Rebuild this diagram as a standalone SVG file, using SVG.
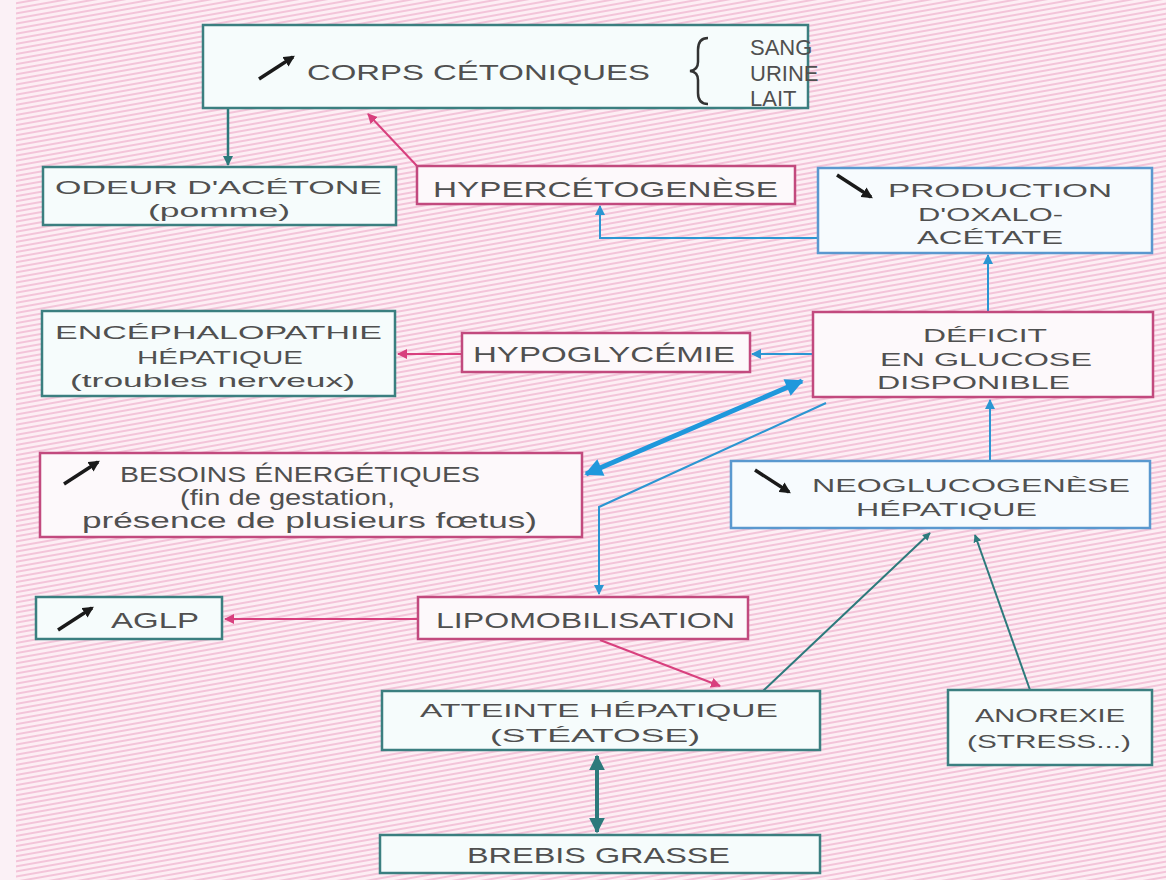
<svg xmlns="http://www.w3.org/2000/svg" width="1166" height="880" viewBox="0 0 1166 880">
<defs>
<pattern id="bg" width="8" height="5" patternUnits="userSpaceOnUse" patternTransform="rotate(-10)">
<rect width="8" height="5" fill="#fdeef4"/>
<rect width="8" height="2" fill="#f3c4d9"/>
</pattern>
<marker id="ahTeal" viewBox="0 0 10 10" refX="9" refY="5" markerWidth="4" markerHeight="4" orient="auto-start-reverse"><path d="M0,0 L10,5 L0,10 z" fill="#2d7a7c"/></marker>
<marker id="ahPink" viewBox="0 0 10 10" refX="9" refY="5" markerWidth="5" markerHeight="5" orient="auto-start-reverse"><path d="M0,0 L10,5 L0,10 z" fill="#d8407e"/></marker>
<marker id="ahBlue" viewBox="0 0 10 10" refX="9" refY="5" markerWidth="5" markerHeight="5" orient="auto-start-reverse"><path d="M0,0 L10,5 L0,10 z" fill="#2b96d2"/></marker>
<marker id="ahBlueBig" viewBox="0 0 10 10" refX="9" refY="5" markerWidth="5.5" markerHeight="3.6" orient="auto-start-reverse"><path d="M0,0 L10,5 L0,10 z" fill="#1f98dc"/></marker>
<marker id="ahBlack" viewBox="0 0 10 10" refX="8" refY="5" markerWidth="3.2" markerHeight="3.2" orient="auto"><path d="M0,0 L10,5 L0,10 z" fill="#1a1a1a"/></marker>
<g id="up"><line x1="0" y1="22" x2="34" y2="0" stroke="#1a1a1a" stroke-width="3.5" marker-end="url(#ahBlack)"/></g>
<g id="down"><line x1="0" y1="0" x2="34" y2="22" stroke="#1a1a1a" stroke-width="3.5" marker-end="url(#ahBlack)"/></g>
</defs>
<style>
.teal{fill:#f6fcfc;stroke:#3b7f80;stroke-width:2.5}
.pink{fill:#fdf9fb;stroke:#c24a7e;stroke-width:2.5}
.blue{fill:#f7fbfe;stroke:#5a98cf;stroke-width:2.5}
text{font-family:"Liberation Sans",Arial,sans-serif;fill:#505050;font-size:22px}
.m{font-size:19px}
.c{text-anchor:middle}
</style>
<rect width="1166" height="880" fill="url(#bg)"/>
<rect width="16" height="880" fill="#fbf1f6"/>

<g id="connectors" fill="none">
<line x1="228" y1="108" x2="228" y2="165" stroke="#2d7a7c" stroke-width="2.5" marker-end="url(#ahTeal)"/>
<line x1="417" y1="166" x2="368" y2="114" stroke="#d8407e" stroke-width="2" marker-end="url(#ahPink)"/>
<polyline points="818,238 600,238 600,206" stroke="#2b96d2" stroke-width="2" marker-end="url(#ahBlue)"/>
<line x1="988" y1="312" x2="988" y2="255" stroke="#2b96d2" stroke-width="2" marker-end="url(#ahBlue)"/>
<line x1="462" y1="354" x2="398" y2="354" stroke="#d8407e" stroke-width="2" marker-end="url(#ahPink)"/>
<line x1="813" y1="354" x2="752" y2="354" stroke="#2b96d2" stroke-width="2" marker-end="url(#ahBlue)"/>
<line x1="586" y1="474" x2="802" y2="381" stroke="#1f98dc" stroke-width="5" marker-start="url(#ahBlueBig)" marker-end="url(#ahBlueBig)"/>
<polyline points="826,403 599,507 599,594" stroke="#2b96d2" stroke-width="2" marker-end="url(#ahBlue)"/>
<line x1="990" y1="460" x2="990" y2="400" stroke="#2b96d2" stroke-width="2" marker-end="url(#ahBlue)"/>
<line x1="418" y1="619" x2="225" y2="619" stroke="#d8407e" stroke-width="2" marker-end="url(#ahPink)"/>
<line x1="600" y1="640" x2="720" y2="686" stroke="#d8407e" stroke-width="2" marker-end="url(#ahPink)"/>
<line x1="763" y1="691" x2="930" y2="533" stroke="#2d7a7c" stroke-width="2" marker-end="url(#ahTeal)"/>
<line x1="1030" y1="690" x2="975" y2="535" stroke="#2d7a7c" stroke-width="2" marker-end="url(#ahTeal)"/>
<line x1="597" y1="756" x2="597" y2="832" stroke="#2d7a7c" stroke-width="4" marker-start="url(#ahTeal)" marker-end="url(#ahTeal)"/>
</g>

<g id="corps">
<rect class="teal" x="203" y="25" width="605" height="83"/>
<use href="#up" x="259" y="57"/>
<text x="307" y="80" textLength="343" lengthAdjust="spacingAndGlyphs">CORPS CÉTONIQUES</text>
<path d="M708,38 Q698,38 698,50 L698,62 Q698,70 690,71 Q698,72 698,80 L698,93 Q698,104 708,104" fill="none" stroke="#333" stroke-width="2.5"/>
<text x="750" y="55" font-size="19">SANG</text>
<text x="750" y="81" font-size="19">URINE</text>
<text x="750" y="106" font-size="19">LAIT</text>
</g>

<g id="odeur">
<rect class="teal" x="43" y="167" width="353" height="58"/>
<text class="m" x="55" y="194" textLength="327" lengthAdjust="spacingAndGlyphs">ODEUR D'ACÉTONE</text>
<text class="m" x="148" y="217" textLength="142" lengthAdjust="spacingAndGlyphs">(pomme)</text>
</g>

<g id="hyperceto">
<rect class="pink" x="417" y="166" width="378" height="38"/>
<text x="433" y="197" textLength="345" lengthAdjust="spacingAndGlyphs">HYPERCÉTOGENÈSE</text>
</g>

<g id="production">
<rect class="blue" x="818" y="168" width="334" height="85"/>
<use href="#down" x="837" y="175"/>
<text class="m" x="888" y="197" textLength="224" lengthAdjust="spacingAndGlyphs">PRODUCTION</text>
<text class="m" x="918" y="221" textLength="145" lengthAdjust="spacingAndGlyphs">D'OXALO-</text>
<text class="m" x="917" y="244" textLength="146" lengthAdjust="spacingAndGlyphs">ACÉTATE</text>
</g>

<g id="encephalo">
<rect class="teal" x="42" y="311" width="353" height="85"/>
<text class="m" x="55" y="339" textLength="327" lengthAdjust="spacingAndGlyphs">ENCÉPHALOPATHIE</text>
<text class="m" x="137" y="364" textLength="166" lengthAdjust="spacingAndGlyphs">HÉPATIQUE</text>
<text class="m" x="70" y="387" textLength="285" lengthAdjust="spacingAndGlyphs">(troubles nerveux)</text>
</g>

<g id="hypogly">
<rect class="pink" x="462" y="333" width="288" height="39"/>
<text x="473" y="362" textLength="262" lengthAdjust="spacingAndGlyphs">HYPOGLYCÉMIE</text>
</g>

<g id="deficit">
<rect class="pink" x="813" y="312" width="340" height="85"/>
<text class="m" x="923" y="342" textLength="124" lengthAdjust="spacingAndGlyphs">DÉFICIT</text>
<text class="m" x="880" y="366" textLength="212" lengthAdjust="spacingAndGlyphs">EN GLUCOSE</text>
<text class="m" x="877" y="389" textLength="193" lengthAdjust="spacingAndGlyphs">DISPONIBLE</text>
</g>

<g id="besoins">
<rect class="pink" x="40" y="453" width="542" height="84"/>
<use href="#up" x="64" y="462"/>
<text x="120" y="482" font-size="18" textLength="360" lengthAdjust="spacingAndGlyphs">BESOINS ÉNERGÉTIQUES</text>
<text x="180" y="505" font-size="18" textLength="215" lengthAdjust="spacingAndGlyphs">(fin de gestation,</text>
<text x="82" y="528" font-size="18" textLength="455" lengthAdjust="spacingAndGlyphs">présence de plusieurs fœtus)</text>
</g>

<g id="neo">
<rect class="blue" x="731" y="461" width="419" height="67"/>
<use href="#down" x="755" y="470"/>
<text class="m" x="812" y="492" textLength="318" lengthAdjust="spacingAndGlyphs">NEOGLUCOGENÈSE</text>
<text class="m" x="856" y="516" textLength="181" lengthAdjust="spacingAndGlyphs">HÉPATIQUE</text>
</g>

<g id="aglp">
<rect class="teal" x="36" y="597" width="186" height="42"/>
<use href="#up" x="58" y="608"/>
<text x="111" y="628" textLength="88" lengthAdjust="spacingAndGlyphs">AGLP</text>
</g>

<g id="lipo">
<rect class="pink" x="418" y="597" width="330" height="42"/>
<text x="436" y="628" textLength="299" lengthAdjust="spacingAndGlyphs">LIPOMOBILISATION</text>
</g>

<g id="atteinte">
<rect class="teal" x="382" y="691" width="438" height="59"/>
<text class="m" x="420" y="717" textLength="358" lengthAdjust="spacingAndGlyphs">ATTEINTE HÉPATIQUE</text>
<text class="m" x="490" y="742" textLength="210" lengthAdjust="spacingAndGlyphs">(STÉATOSE)</text>
</g>

<g id="anorexie">
<rect class="teal" x="948" y="690" width="204" height="75"/>
<text class="m" x="975" y="722" textLength="150" lengthAdjust="spacingAndGlyphs">ANOREXIE</text>
<text class="m" x="967" y="748" textLength="164" lengthAdjust="spacingAndGlyphs">(STRESS...)</text>
</g>

<g id="brebis">
<rect class="teal" x="380" y="835" width="440" height="38"/>
<text x="467" y="863" textLength="263" lengthAdjust="spacingAndGlyphs">BREBIS GRASSE</text>
</g>
</svg>
